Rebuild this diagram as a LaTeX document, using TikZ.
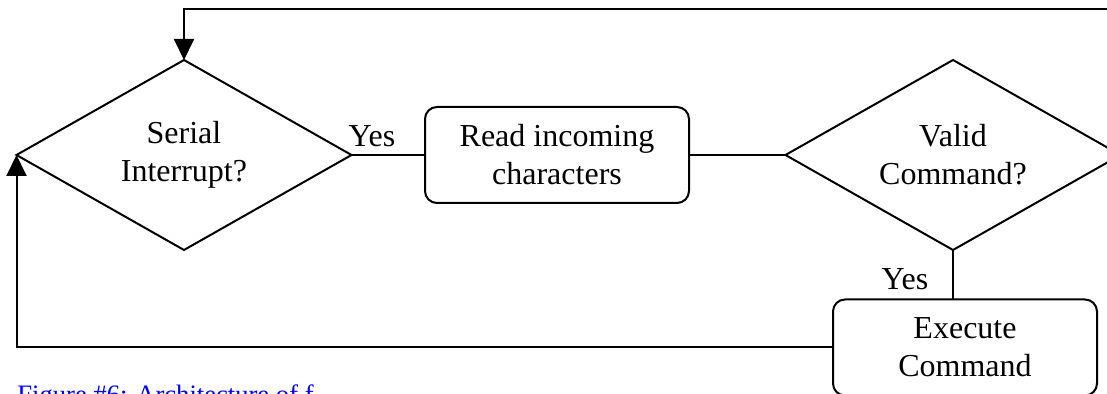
\documentclass[tikz,border=0pt]{standalone}
\usepackage{fontspec}
\setmainfont{Liberation Serif}
\usetikzlibrary{shapes.geometric,arrows.meta}

\tikzset{
    flowtext/.style={font=\fontsize{16}{19}\selectfont},
    decision/.style={draw, diamond, line width=1pt, minimum width=167.5pt, minimum height=95pt,
        inner sep=-20pt, outer sep=0pt, align=center, flowtext},
    process/.style={draw, rounded corners=6pt, line width=1pt, minimum width=132pt, minimum height=48pt,
        inner sep=0pt, outer sep=0pt, align=center, flowtext},
    flow/.style={line width=1pt},
    flowarrow/.style={flow, -{Triangle[width=10pt,length=10.5pt]}},
    answer/.style={anchor=base, inner sep=0pt, flowtext}
}

\begin{document}
\begin{tikzpicture}[x=0.5pt,y=0.5pt,yscale=-1,xscale=1]
        \useasboundingbox (0,0) rectangle (1107,394);

        %Shape: Diamond [serial]
        \node [decision] (serial) at (184,155) {Serial\\Interrupt?};
        %Shape: Rounded Rect [read]
        \node [process] (read) at (557,155) {Read incoming\\characters};
        %Shape: Diamond [valid]
        \node [decision] (valid) at (953,155) {Valid\\Command?};
        %Shape: Rounded Rect [execute]
        \node [process] (execute) at (965,347.5) {Execute\\Command};
        \coordinate (loopcorner) at (1130,9);

        %Straight Lines
        \draw [flow] (serial.east) -- (read.west);
        \draw [flow] (read.east) -- (valid.west);
        \draw [flow] (valid.south) -- (valid.south |- execute.north);
        %Connector lines with arrows
        \draw [flowarrow] (execute.west) -| (serial.west);
        \draw [flowarrow] (valid.east) -| (loopcorner) -| (serial.north);

        % Text Node
        \node [answer] (yesread) at (372,147) {Yes};
        % Text Node
        \node [answer] (yesexec) at (905,290) {Yes};
        % Text Node
        \node [anchor=base west, inner sep=0pt, text=blue, font=\fontsize{13.3}{16}\selectfont] (caption) at (17,404) {Figure \#6: Architecture of f};

\end{tikzpicture}
\end{document}
